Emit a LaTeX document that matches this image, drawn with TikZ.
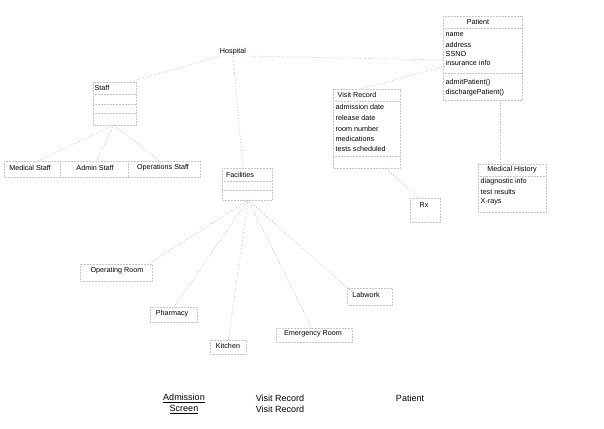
\documentclass[tikz,border=0pt]{standalone}
\usepackage{fontspec}
\setmainfont{Liberation Sans}
\begin{document}
\begin{tikzpicture}[x=1pt,y=-1pt,
  lbl/.style={inner sep=0.5pt,font=\fontsize{7.2}{8}\selectfont,text=black},
  attr/.style={lbl,anchor=west},
  box/.style={draw=black!22,densely dotted,line width=0.5pt},
  conn/.style={draw=black!28,dotted,line width=0.7pt},
  big/.style={inner sep=0.5pt,font=\fontsize{9}{11}\selectfont,text=black}]
\useasboundingbox (0,0) rectangle (604,428);
% ---------- Patient ----------
\draw[box] (443,16) rectangle (522,100);
\draw[box] (443,28) -- (522,28);
\draw[box] (443,73) -- (522,73);
\node[lbl] (patient) at (478,22) {Patient};
\node[attr] (pname) at (445,35) {name};
\node[attr] (paddr) at (445,45) {address};
\node[attr] (pssno) at (445,54) {SSNO};
\node[attr] (pins) at (445,63) {insurance info};
\node[attr] (padm) at (445,83) {admitPatient()};
\node[attr] (pdis) at (445,93) {dischargePatient()};
\coordinate (patW) at (443,60);
\coordinate (patS) at (500,100);
% ---------- Hospital ----------
\node[lbl] (hosp) at (233,52) {Hospital};
% ---------- Staff ----------
\draw[box] (93,82) rectangle (136,125);
\draw[box] (93,94) -- (136,94);
\draw[box] (93,104) -- (136,104);
\draw[box] (93,113) -- (136,113);
\node[lbl] (staff) at (102,88) {Staff};
\coordinate (staffN) at (130,82);
\coordinate (staffS) at (114,125);
% ---------- staff subclasses ----------
\draw[box] (4,161) rectangle (200,177);
\draw[box] (60,161) -- (60,177);
\draw[box] (128,161) -- (128,177);
\node[lbl] (med) at (30,168) {Medical Staff};
\node[lbl] (adm) at (95,168) {Admin Staff};
\node[lbl] (ops) at (163,168) {Operations Staff};
% ---------- Visit Record ----------
\draw[box] (333,89) rectangle (400,168);
\draw[box] (333,101) -- (400,101);
\draw[box] (333,156) -- (400,156);
\node[lbl] (visit) at (357,95) {Visit Record};
\node[attr] (vad) at (335,107) {admission date};
\node[attr] (vrd) at (335,118) {release date};
\node[attr] (vrn) at (335,129) {room number};
\node[attr] (vmd) at (335,139) {medications};
\node[attr] (vts) at (335,149) {tests scheduled};
\coordinate (visitN) at (360,89);
\coordinate (visitS) at (385,168);
% ---------- Facilities ----------
\draw[box] (222,168) rectangle (272,200);
\draw[box] (222,181) -- (272,181);
\draw[box] (222,190) -- (272,190);
\node[lbl] (fac) at (240,175) {Facilities};
\coordinate (facN) at (243,168);
\coordinate (facS) at (248,200);
% ---------- Rx ----------
\node[lbl] (rx) at (424,205) {Rx};
\draw[box] (410,198) rectangle (440,222);
% ---------- Medical History ----------
\draw[box] (478,164) rectangle (546,212);
\draw[box] (478,176) -- (546,176);
\node[lbl] (mh) at (512,170) {Medical History};
\node[attr] (mhd) at (480,182) {diagnostic info};
\node[attr] (mht) at (480,192) {test results};
\node[attr] (mhx) at (480,202) {X-rays};
\coordinate (mhN) at (500,164);
% ---------- facility subclasses ----------
\draw[box] (80,264) rectangle (152,281);
\node[lbl] (or) at (117,271) {Operating Room};
\draw[box] (150,307) rectangle (197,322);
\node[lbl] (ph) at (172,314) {Pharmacy};
\draw[box] (347,288) rectangle (392,305);
\node[lbl] (lab) at (366,295) {Labwork};
\draw[box] (276,328) rectangle (352,342);
\node[lbl] (er) at (313,334) {Emergency Room};
\draw[box] (210,340) rectangle (246,354);
\node[lbl] (kit) at (228,346) {Kitchen};
% ---------- connectors ----------
\draw[conn] (hosp.south east) -- (patW);
\draw[conn] (hosp.south west) -- (staffN);
\draw[conn] (hosp.south) -- (facN);
\draw[conn] (patS) -- (mhN);
\draw[conn] (pins.south west) -- (visitN);
\draw[conn] (visitS) -- (rx.north);
\draw[conn] (staffS) -- (med.north);
\draw[conn] (staffS) -- (adm.north);
\draw[conn] (staffS) -- (ops.north);
\draw[conn] (facS) -- (or.north east);
\draw[conn] (facS) -- (ph.north);
\draw[conn] (facS) -- (lab.north west);
\draw[conn] (facS) -- (er.north);
\draw[conn] (facS) -- (kit.north);
% ---------- legend ----------
\node[big,align=center] (leg1) at (184,404) {\underline{Admission}\\\underline{Screen}};
\node[big,align=center] (leg2) at (280,404) {Visit Record\\Visit Record};
\node[big] (leg3) at (410,398) {Patient};
\end{tikzpicture}
\end{document}
